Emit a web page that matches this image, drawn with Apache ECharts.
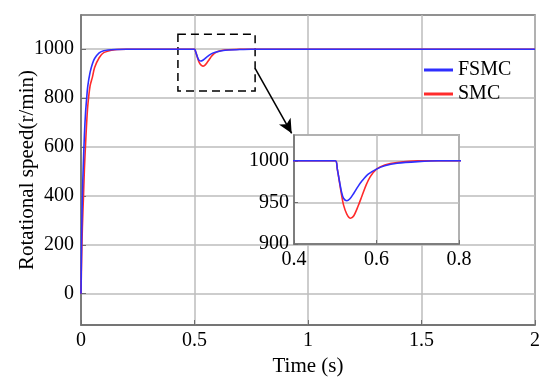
<!DOCTYPE html>
<html><head><meta charset="utf-8">
<script src="https://cdn.jsdelivr.net/npm/echarts@6/dist/echarts.min.js"></script>
<style>html,body{margin:0;padding:0;background:#fff}#c{width:550px;height:381px}</style>
</head><body><div id="c"></div>
<script>
// Time (s) and speed (r/min)
const tFSMC = [0,0.003,0.006,0.01,0.015,0.02,0.025,0.03,0.04,0.05,0.06,0.08,0.1,0.15,0.2,0.5,0.505,0.51,0.515,0.52,0.528,0.535,0.545,0.555,0.565,0.58,0.6,0.62,0.65,0.7,0.75,1,1.5,2];
const vFSMC = [0,250,400,520,650,740,800,850,905,940,962,985,994,999,1000,1000,990,976,963,955,952,954,961,969,976,984,990,994,997,999,1000,1000,1000,1000];
const tSMC = [0,0.003,0.006,0.011,0.015,0.02,0.025,0.03,0.04,0.05,0.06,0.08,0.1,0.15,0.2,0.5,0.505,0.51,0.515,0.52,0.528,0.537,0.545,0.555,0.565,0.575,0.585,0.6,0.62,0.65,0.7,0.75,1,1.5,2];
const vSMC = [0,150,270,400,510,610,700,770,850,885,925,965,986,998,1000,1000,990,975,960,947,936,931,934,945,958,971,981,990,995,998,1000,1000,1000,1000,1000];
const mainYTicks = [0,200,400,600,800,1000];
const zoomBox = [[0.427,1061],[0.767,829]];
const arrowLine = [[0.767,922],[0.928,656]];

const pairs = (t,v) => t.map((x,i)=>[x,v[i]]);
const font = 'Liberation Serif';
const ax = {fontFamily: font, fontSize: 20, color: '#000'};
const nameStyle = {fontFamily: font, fontSize: 21, color: '#000'};
const gridLine = {show:true, lineStyle:{color:'#bdbdbd', width:1.5}};
const chart = echarts.init(document.getElementById('c'));
chart.setOption({
  animation:false,
  textStyle:{fontFamily:font},
  grid:[
    {left:81,right:15,top:15,bottom:56,show:true,borderColor:'#6e6e6e',borderWidth:1.5,backgroundColor:'#fff',outerBoundsMode:'none',containLabel:false},
    {left:294,right:91,top:135,bottom:137,show:true,borderColor:'#6e6e6e',borderWidth:1.5,backgroundColor:'#fff',z:5,outerBoundsMode:'none',containLabel:false}
  ],
  legend:{
    data:['FSMC','SMC'], orient:'vertical', left:424, top:60, itemWidth:29, itemHeight:3, itemGap:4,
    icon:'rect', textStyle:{fontFamily:font,fontSize:20,color:'#000'}, padding:0
  },
  xAxis:[
    {type:'value',gridIndex:0,min:0,max:2,interval:0.5,
     name:'Time (s)',nameLocation:'middle',nameGap:28,nameTextStyle:nameStyle,
     axisLine:{onZero:false,lineStyle:{color:'#6e6e6e',width:1.5}},axisTick:{inside:true,length:5,lineStyle:{color:'#6e6e6e'}},
     axisLabel:Object.assign({margin:6,formatter:v=>String(v)},ax),splitLine:gridLine},
    {type:'value',gridIndex:1,min:0.4,max:0.8,interval:0.2,z:6,
     axisLine:{onZero:false,lineStyle:{color:'#6e6e6e',width:1.5}},axisTick:{inside:true,length:4,lineStyle:{color:'#6e6e6e'}},
     axisLabel:Object.assign({margin:6,formatter:v=>v.toFixed(1)},ax),splitLine:gridLine}
  ],
  yAxis:[
    {type:'value',gridIndex:0,min:-128,max:1140,
     name:'Rotational speed(r/min)',nameLocation:'middle',nameGap:43,nameMoveOverlap:false,nameTextStyle:nameStyle,
     axisLine:{show:true,onZero:false,lineStyle:{color:'#6e6e6e',width:1.5}},
     axisTick:{show:true,inside:true,length:5,customValues:mainYTicks,lineStyle:{color:'#6e6e6e'}},
     axisLabel:Object.assign({margin:7,customValues:mainYTicks,formatter:v=>String(v)},ax),splitLine:gridLine},
    {type:'value',gridIndex:1,min:900,max:1031,interval:50,z:6,
     axisLine:{show:true,onZero:false,lineStyle:{color:'#6e6e6e',width:1.5}},
     axisTick:{show:true,inside:true,length:4,lineStyle:{color:'#6e6e6e'}},
     axisLabel:Object.assign({margin:5,showMaxLabel:false,formatter:v=>String(v)},ax),splitLine:gridLine}
  ],
  series:[
    {name:'SMC',type:'line',xAxisIndex:0,yAxisIndex:0,data:pairs(tSMC,vSMC),showSymbol:false,smooth:0.3,
     lineStyle:{color:'#ff2b2b',width:1.6},itemStyle:{color:'#ff2b2b'},z:2},
    {name:'FSMC',type:'line',xAxisIndex:0,yAxisIndex:0,data:pairs(tFSMC,vFSMC),showSymbol:false,smooth:0.3,
     lineStyle:{color:'#2f2fff',width:1.6},itemStyle:{color:'#2f2fff'},z:3,
     markArea:{silent:true,itemStyle:{color:'rgba(0,0,0,0)',borderColor:'#000',borderWidth:1.5,borderType:[8,5]},
       data:[[{coord:zoomBox[0]},{coord:zoomBox[1]}]]},
     markLine:{silent:true,symbol:['none','arrow'],symbolSize:[10,14],label:{show:false},
       lineStyle:{color:'#000',width:1.5,type:'solid'},
       data:[[{coord:arrowLine[0]},{coord:arrowLine[1]}]]}},
    {name:'SMC',type:'line',xAxisIndex:1,yAxisIndex:1,data:pairs(tSMC,vSMC),showSymbol:false,smooth:0.3,clip:true,
     lineStyle:{color:'#ff2b2b',width:1.6},z:7},
    {name:'FSMC',type:'line',xAxisIndex:1,yAxisIndex:1,data:pairs(tFSMC,vFSMC),showSymbol:false,smooth:0.3,clip:true,
     lineStyle:{color:'#2f2fff',width:1.6},z:8}
  ]
});
</script></body></html>
